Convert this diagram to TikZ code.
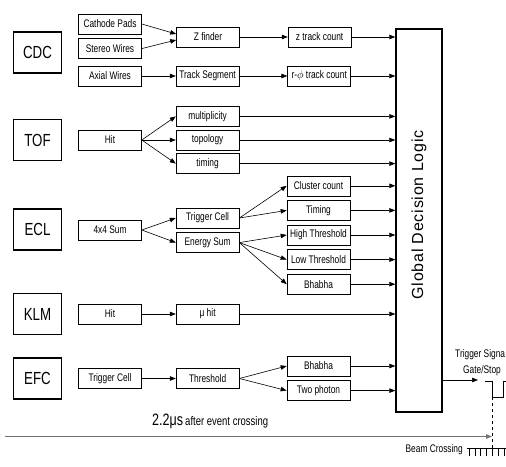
\documentclass[tikz,border=0pt]{standalone}
\usepackage{fontspec}
\setmainfont{Liberation Sans}
\newfontfamily\condfont{Liberation Sans}[FakeStretch=0.76]
\usepackage{tikz}
\usetikzlibrary{arrows.meta, positioning, calc}
\tikzset{
  det/.style={
    rectangle, draw=black, line width=1.4pt,
    minimum width=48pt, minimum height=41pt,
    font=\condfont\fontsize{17.5}{17.5}\selectfont
  },
  blk/.style={
    rectangle, draw=black, line width=0.6pt, inner sep=1pt,
    minimum width=63pt, minimum height=20pt,
    font=\condfont\fontsize{11}{11}\selectfont
  },
  gdl/.style={
    rectangle, draw=black, line width=1.4pt,
    minimum width=46pt, minimum height=383pt
  },
  sig/.style={inner sep=0pt, font=\condfont\fontsize{11}{11}\selectfont},
  arrow/.style={-{Triangle[length=6pt,width=4.5pt]}, line width=0.6pt},
  timeline/.style={-{Triangle[length=6pt,width=4.5pt]}, line width=1.1pt, draw=black!55}
}
\begin{document}
\begin{tikzpicture}[x=1pt, y=-1pt, node distance=4pt and 34pt]
  \useasboundingbox (0,0) rectangle (506,466);

  % detectors
  \node[det] (cdc) at (37.5,52.5) {CDC};
  \node[det] (tof) at (37.5,140) {TOF};
  \node[det] (ecl) at (37.5,229.5) {ECL};
  \node[det] (klm) at (37.5,314) {KLM};
  \node[det] (efc) at (37.5,378.5) {EFC};

  % first column
  \node[blk] (cpads) at (110,24) {Cathode Pads};
  \node[blk, below=of cpads] (stereo) {Stereo Wires};
  \node[blk] (axial) at (110,76) {Axial Wires};
  \node[blk] (tofhit) at (110,140) {Hit};
  \node[blk] (sum) at (110,230) {4x4 Sum};
  \node[blk] (klmhit) at (110,314) {Hit};
  \node[blk] (efccell) at (110,378.5) {Trigger Cell};

  % second column
  \node[blk] (zfind) at (208,37) {Z finder};
  \node[blk, right=of axial] (tseg) {Track Segment};
  \node[blk, right=of tofhit] (topo) {topology};
  \node[blk, above=3pt of topo] (mult) {multiplicity};
  \node[blk, below=3pt of topo] (timing) {timing};
  \node[blk, right=of sum, yshift=12pt] (tcell) {Trigger Cell};
  \node[blk, below=of tcell] (esum) {Energy Sum};
  \node[blk, right=of klmhit] (muhit) {μ hit};
  \node[blk, right=of efccell] (thr) {Threshold};

  % third column
  \node[blk, right=48pt of zfind] (zcount) {z track count};
  \node[blk, right=48pt of tseg] (rcount) {r-$\phi$ track count};
  \node[blk] (hthr) at (318.5,235) {High Threshold};
  \node[blk, above=of hthr] (ecltime) {Timing};
  \node[blk, above=of ecltime] (ccount) {Cluster count};
  \node[blk, below=of hthr] (lthr) {Low Threshold};
  \node[blk, below=of lthr] (eclbha) {Bhabha};
  \node[blk] (efcbha) at (318.5,366) {Bhabha};
  \node[blk, below=of efcbha] (twoph) {Two photon};

  \node[gdl] (gdl) at (419,220.5) {};
  \node[rotate=90, font=\fontsize{16}{16}\selectfont\addfontfeature{LetterSpace=5}]
    (gdltext) at (419,215) {Global Decision Logic};

  \draw[arrow] (cpads.east) -- ([yshift=3pt]zfind.west);
  \draw[arrow] (stereo.east) -- ([yshift=-3pt]zfind.west);
  \draw[arrow] (axial) -- (tseg);
  \draw[arrow] (zfind) -- (zcount);
  \draw[arrow] (tseg) -- (rcount);
  \foreach \n in {mult,topo,timing}
    \draw[arrow] (tofhit.east) -- (\n.west);
  \foreach \n in {tcell,esum}
    \draw[arrow] (sum.east) -- (\n.west);
  \foreach \n in {ccount,ecltime}
    \draw[arrow] (tcell.east) -- (\n.west);
  \foreach \n in {hthr,lthr,eclbha}
    \draw[arrow] (esum.east) -- (\n.west);
  \draw[arrow] (klmhit) -- (muhit);
  \draw[arrow] (efccell) -- (thr);
  \foreach \n in {efcbha,twoph}
    \draw[arrow] (thr.east) -- (\n.west);
  \foreach \n in {zcount,rcount,mult,topo,timing,ccount,ecltime,hthr,lthr,eclbha,muhit,efcbha,twoph}
    \draw[arrow] (\n) -- (\n -| gdl.west);

  % trigger output
  \coordinate (trig) at (478,380);
  \draw[arrow] (gdl.east |- trig) -- (trig);
  \node[sig, anchor=west] (sigtext) at (455,355) {Trigger Signa};
  \node[sig, anchor=west] (gatetext) at (463,370.5) {Gate/Stop};
  \coordinate (pulse) at (492,397);
  \draw[line width=0.6pt] (485,381) -- (pulse |- 0,381) -- (pulse) -- (503,397) -- (503,381) -- (506,381);

  % beam crossing
  \coordinate (beamtop) at (492,448);
  \draw[dashed, line width=0.6pt] (pulse) -- (beamtop);
  \draw[line width=0.6pt] (467,448) -- (506,448);
  \foreach \x in {469,474.8,...,505}
    \draw[line width=0.6pt] (\x,448) -- (\x,455.5);
  \node[sig, anchor=east] (beam) at (463,450) {Beam Crossing};

  % time axis
  \coordinate (tstart) at (5,436.5);
  \draw[timeline] (tstart) -- (tstart -| pulse);
  \node[anchor=base west, inner sep=0pt, font=\condfont] (tlabel) at (152,425.5)
    {{\fontsize{16.5}{16.5}\selectfont 2.2μs}~{\fontsize{12.5}{12.5}\selectfont after event crossing}};
\end{tikzpicture}
\end{document}
